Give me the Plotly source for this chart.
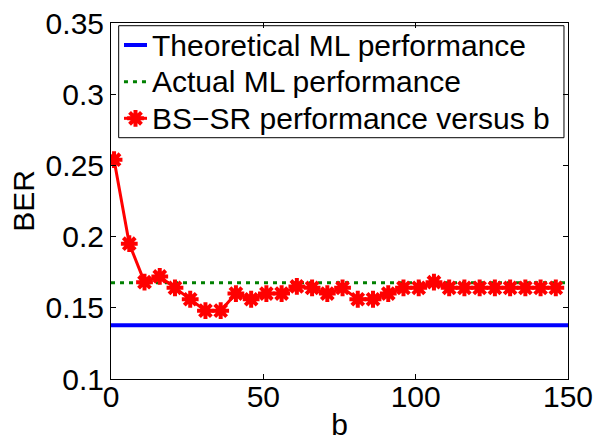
import plotly.graph_objects as go

b_vals = [1, 6, 11, 16, 21, 26, 31, 36, 41, 46, 51, 56, 61, 66, 71, 76, 81, 86, 91, 96,
          101, 106, 111, 116, 121, 126, 131, 136, 141, 146]
bs_sr = [0.254, 0.195, 0.168, 0.172, 0.164, 0.156, 0.148, 0.148, 0.160, 0.156,
         0.160, 0.160, 0.165, 0.164, 0.160, 0.164, 0.156, 0.156, 0.160, 0.164,
         0.164, 0.168, 0.164, 0.164, 0.164, 0.164, 0.164, 0.164, 0.164, 0.164]
x_range = [0, 150]
theoretical_ml = 0.1377
actual_ml = 0.1676
legend_names = ["Theoretical ML performance", "Actual ML performance",
                "BS\u2212SR performance versus b"]

FONT = "Liberation Sans, Arial, Helvetica, sans-serif"
BLUE, GREEN, RED = "#0000ff", "#008000", "#ff0000"
GREEN_DASH = "4px,5px"

fig = go.Figure()
fig.add_trace(go.Scatter(x=x_range, y=[theoretical_ml] * 2, mode="lines",
                         line=dict(color=BLUE, width=4), name=legend_names[0]))
fig.add_trace(go.Scatter(x=x_range, y=[actual_ml] * 2, mode="lines",
                         line=dict(color=GREEN, width=3, dash=GREEN_DASH),
                         name=legend_names[1]))
fig.add_trace(go.Scatter(x=b_vals, y=bs_sr, mode="lines+markers",
                         line=dict(color=RED, width=3),
                         marker=dict(symbol="asterisk-open", size=14, color=RED,
                                     line=dict(color=RED, width=4)),
                         name=legend_names[2]))

# ---- legend drawn in the style of the original (boxed, top-left) ----
box = dict(x0=0.0168, x1=0.9912, y0=0.6778, y1=0.9924)
rows_y = [0.9382, 0.8351, 0.7323]
sample_x0, sample_x1, text_x = 0.0284, 0.0788, 0.0853

fig.add_shape(type="rect", xref="paper", yref="paper", **box,
              line=dict(color="black", width=1), fillcolor="rgba(0,0,0,0)")
fig.add_shape(type="line", xref="paper", yref="paper", x0=sample_x0, x1=sample_x1,
              y0=rows_y[0], y1=rows_y[0], line=dict(color=BLUE, width=4))
fig.add_shape(type="line", xref="paper", yref="paper", x0=sample_x0, x1=sample_x1,
              y0=rows_y[1], y1=rows_y[1], line=dict(color=GREEN, width=3, dash=GREEN_DASH))
fig.add_shape(type="line", xref="paper", yref="paper", x0=sample_x0, x1=sample_x1,
              y0=rows_y[2], y1=rows_y[2], line=dict(color=RED, width=3))
fig.add_trace(go.Scatter(x=[(sample_x0 + sample_x1) / 2], y=[rows_y[2]], mode="markers",
                         xaxis="x2", yaxis="y2", showlegend=False, hoverinfo="skip",
                         marker=dict(symbol="asterisk-open", size=14, color=RED,
                                     line=dict(color=RED, width=4))))
for name, yy in zip(legend_names, rows_y):
    fig.add_annotation(xref="paper", yref="paper", x=text_x, y=yy, text=name,
                       showarrow=False, xanchor="left", yanchor="middle",
                       font=dict(size=30, family=FONT, color="black"))

axis_common = dict(showline=True, linecolor="black", linewidth=1, mirror="ticks",
                   ticks="inside", ticklen=5, tickcolor="black", showgrid=False,
                   zeroline=False, automargin=False, ticklabeloverflow="allow",
                   tickfont=dict(size=30, color="black", family=FONT))

fig.update_layout(
    width=593, height=441,
    margin=dict(l=111, r=25, t=23, b=62),
    plot_bgcolor="white", paper_bgcolor="white",
    font=dict(family=FONT, color="black", size=30),
    showlegend=False,
    xaxis=dict(range=x_range, tickvals=[0, 50, 100, 150], ticklabelstandoff=-9,
               title=dict(text="b", font=dict(size=30), standoff=19), **axis_common),
    yaxis=dict(range=[0.1, 0.35], tickvals=[0.1, 0.15, 0.2, 0.25, 0.3, 0.35],
               ticktext=["0.1", "0.15", "0.2", "0.25", "0.3", "0.35"],
               title=dict(text="BER", font=dict(size=30), standoff=2), **axis_common),
    xaxis2=dict(overlaying="x", range=[0, 1], visible=False, fixedrange=True),
    yaxis2=dict(overlaying="y", range=[0, 1], visible=False, fixedrange=True),
)

fig.write_html("out.html")
